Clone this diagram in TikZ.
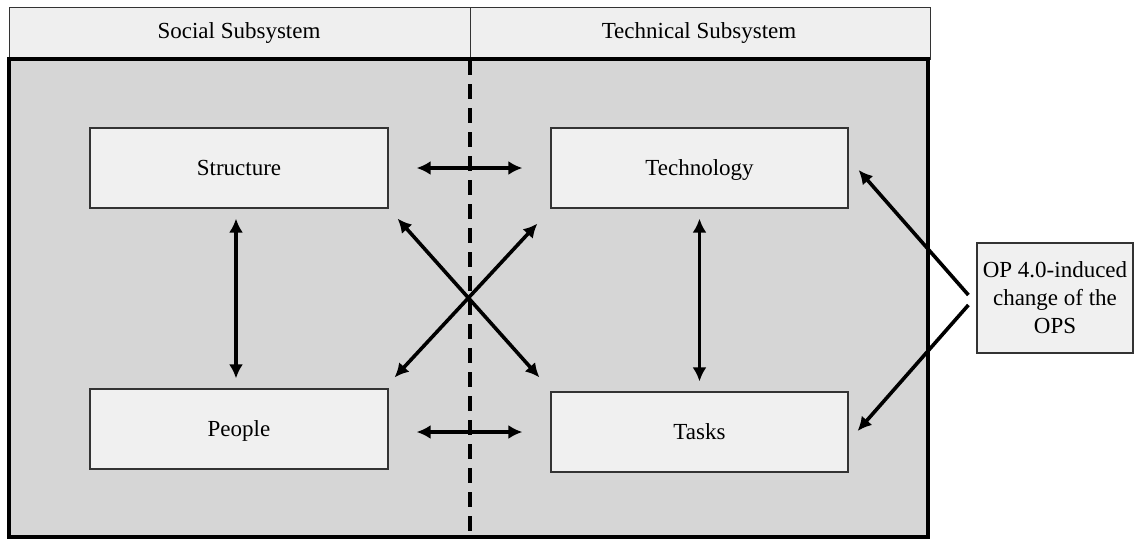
\documentclass[tikz,border=0pt]{standalone}
\usepackage{fontspec}
\setmainfont{Liberation Serif}
\usetikzlibrary{arrows.meta}
\definecolor{hdrfill}{HTML}{EFEFEF}
\definecolor{panelfill}{HTML}{D6D6D6}
\definecolor{boxfill}{HTML}{F0F0F0}
\definecolor{boxline}{HTML}{333333}
\begin{document}
\begin{tikzpicture}[x=1pt,y=-1pt,
  every node/.style={font=\fontsize{23}{28}\selectfont},
  elem/.style={draw=boxline,line width=1.2pt,fill=boxfill,minimum width=298pt,minimum height=80pt,inner sep=0pt,text depth=0.25ex},
  arr/.style={line width=3.6pt,{Latex[length=14pt,width=14pt]}-{Latex[length=14pt,width=14pt]}},
  oarr/.style={line width=3.6pt,-{Latex[length=14pt,width=14pt]}}]
\useasboundingbox (0,0) rectangle (1136,539);
% header
\draw[draw=boxline,line width=0.8pt,fill=hdrfill] (9,7) rectangle (930,59);
\draw[boxline,line width=0.8pt] (470,7) -- (470,59);
\node (hsoc) at (239,33) {Social Subsystem};
\node (htec) at (699,33) {Technical Subsystem};
% panel
\draw[line width=3.4pt,fill=panelfill] (9,59) rectangle (928,537);
\draw[line width=3.8pt,dash pattern=on 15pt off 9pt] (470,60) -- (470,537);
% elements
\node[elem] (struct) at (239,168) {Structure};
\node[elem] (people) at (239,429) {People};
\node[elem,minimum width=297pt] (tech) at (699.5,168) {Technology};
\node[elem,minimum width=297pt] (tasks) at (699.5,432) {Tasks};
\node[draw=boxline,line width=1.2pt,fill=boxfill,minimum width=156pt,minimum height=110pt,align=center,inner sep=0pt] (ops) at (1055,298) {OP 4.0-induced\\change of the\\OPS};
% horizontal arrows
\draw[arr,shorten <=28pt,shorten >=28pt] (struct) -- (tech);
\draw[arr] ([shift={(28,3)}]people.east) -- ([shift={(-28,0)}]tasks.west);
% vertical arrows
\draw[arr] ([shift={(-3,10)}]struct.south) -- ([shift={(-3,-10)}]people.north);
\draw[arr] ([shift={(0,10)}]tech.south) -- ([shift={(0,-10)}]tasks.north);
% diagonals
\draw[arr] ([shift={(9,10)}]struct.south east) -- ([shift={(-11,-14)}]tasks.north west);
\draw[arr] ([shift={(6,-11)}]people.north east) -- ([shift={(-13,15)}]tech.south west);
% OPS arrows
\draw[oarr] ([shift={(-8,-3)}]ops.west) -- ([shift={(10,2)}]tech.east);
\draw[oarr] ([shift={(-8,7)}]ops.west) -- ([shift={(9,-1)}]tasks.east);
\end{tikzpicture}
\end{document}
